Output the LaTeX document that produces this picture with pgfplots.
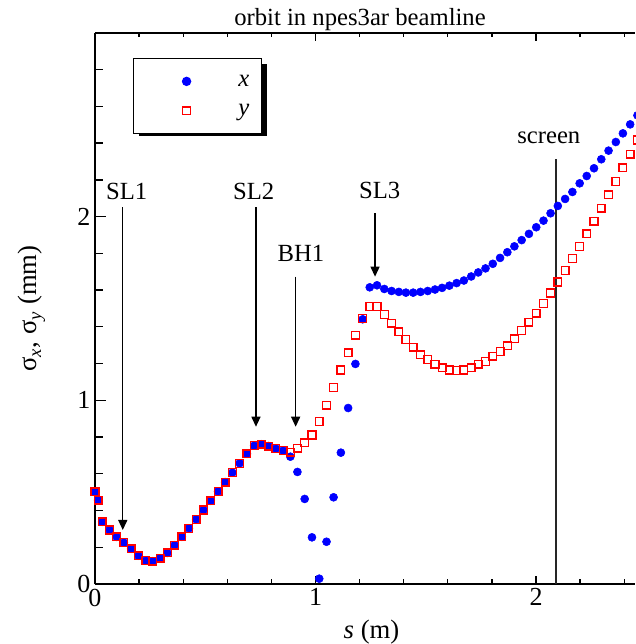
\documentclass[border=0pt]{standalone}
\usepackage{fontspec}
\setmainfont{Liberation Serif}
\usepackage{pgfplots}
\usepackage{pgfplotstable}
\pgfplotsset{compat=1.18}
\usetikzlibrary{arrows.meta}

% beam size along the npes3ar line: s (m), sigma (mm)
\pgfplotstableread{
s     sig
0.000 0.501
0.014 0.457
0.033 0.339
0.066 0.294
0.098 0.257
0.131 0.225
0.164 0.192
0.197 0.154
0.230 0.127
0.262 0.124
0.295 0.140
0.328 0.169
0.361 0.211
0.394 0.257
0.426 0.303
0.459 0.352
0.492 0.403
0.525 0.453
0.558 0.504
0.590 0.555
0.623 0.606
0.656 0.657
0.689 0.709
0.722 0.753
0.754 0.761
0.787 0.751
0.820 0.737
0.853 0.726
0.886 0.693
0.918 0.610
0.951 0.463
0.984 0.254
1.017 0.029
1.050 0.230
1.082 0.472
1.115 0.715
1.148 0.958
1.181 1.198
1.214 1.441
1.246 1.615
1.279 1.626
1.312 1.606
1.345 1.595
1.378 1.590
1.410 1.586
1.443 1.586
1.476 1.590
1.509 1.595
1.542 1.603
1.574 1.612
1.607 1.624
1.640 1.638
1.673 1.652
1.706 1.674
1.738 1.696
1.771 1.718
1.804 1.743
1.837 1.775
1.870 1.806
1.902 1.838
1.935 1.872
1.968 1.906
2.001 1.942
2.034 1.978
2.066 2.018
2.099 2.058
2.132 2.096
2.165 2.134
2.198 2.181
2.230 2.221
2.263 2.263
2.296 2.312
2.329 2.359
2.362 2.406
2.394 2.453
2.427 2.502
2.460 2.551
}\sigx

\pgfplotstableread{
s     sig
0.000 0.501
0.014 0.457
0.033 0.339
0.066 0.294
0.098 0.257
0.131 0.225
0.164 0.192
0.197 0.154
0.230 0.127
0.262 0.124
0.295 0.140
0.328 0.169
0.361 0.211
0.394 0.257
0.426 0.303
0.459 0.352
0.492 0.403
0.525 0.453
0.558 0.504
0.590 0.555
0.623 0.606
0.656 0.657
0.689 0.709
0.722 0.753
0.754 0.761
0.787 0.751
0.820 0.737
0.853 0.726
0.886 0.717
0.918 0.740
0.951 0.769
0.984 0.811
1.017 0.884
1.050 0.973
1.082 1.069
1.115 1.165
1.148 1.259
1.181 1.355
1.214 1.446
1.246 1.510
1.279 1.510
1.312 1.466
1.345 1.420
1.378 1.372
1.410 1.330
1.443 1.289
1.476 1.248
1.509 1.221
1.542 1.196
1.574 1.176
1.607 1.165
1.640 1.163
1.673 1.165
1.706 1.177
1.738 1.196
1.771 1.212
1.804 1.240
1.837 1.265
1.870 1.296
1.902 1.334
1.935 1.380
1.968 1.425
2.001 1.474
2.034 1.527
2.066 1.584
2.099 1.644
2.132 1.706
2.165 1.771
2.198 1.838
2.230 1.906
2.263 1.975
2.296 2.046
2.329 2.118
2.362 2.191
2.394 2.265
2.427 2.340
2.460 2.417
}\sigy

\begin{document}
\begin{tikzpicture}
\begin{axis}[
  x=165.375pt, y=137.775pt,
  xmin=0, xmax=2.449, ymin=0, ymax=3,
  axis x line*=box, axis y line*=left,
  clip=false,
  axis line style={line width=1.2pt, black},
  xtick={0,1,2}, ytick={0,1,2},
  minor xtick={0.2,0.4,0.6,0.8,1.2,1.4,1.6,1.8,2.2,2.4},
  minor ytick={0.2,0.4,0.6,0.8,1.2,1.4,1.6,1.8,2.2,2.4,2.6,2.8},
  tick align=inside,
  major tick length=8pt, minor tick length=6pt,
  xtick style={/pgfplots/major tick length=6pt, /pgfplots/minor tick length=3.4pt},
  tick style={line width=1pt, black},
  /pgf/number format/assume math mode=true,
  tick label style={font=\fontsize{19.5}{20}\selectfont},
  xlabel={\textit{s} (m)},
  ylabel={σ\textsubscript{\textit{x}}, σ\textsubscript{\textit{y}} (mm)},
  label style={font=\fontsize{20}{22}\selectfont},
  xlabel style={at={(axis description cs:0.512,-0.0866)}, anchor=center},
  ylabel style={at={(axis description cs:-0.117,0.5)}, anchor=center},
  legend style={at={(axis cs:0.172,2.863)}, anchor=north west,
    draw=black, line width=1pt, fill=white,
    inner xsep=0pt, inner ysep=6pt, row sep=0pt, column sep=0pt,
    font=\fontsize{18.5}{20}\selectfont\itshape,
    nodes={inner sep=0pt, text width=17.5pt, align=left}},
  legend image code/.code={
    \path[draw=none, fill=none] (0pt,-11pt) rectangle (78.5pt,11pt);
    \draw[#1] plot coordinates {(39.75pt,0pt)};},
]
% hard shadow behind the legend box
\fill[black] (axis cs:0.2018,2.436) rectangle (axis cs:0.7823,2.828);

\addplot[only marks, mark=*, mark size=3pt, color=blue,
  mark options={solid, draw=blue, fill=blue}] table[x=s, y=sig] {\sigx};
\addlegendentry{x}
\addplot[only marks, mark=square, mark size=2.9pt, color=red,
  mark options={solid, draw=red, fill=none, line width=1pt}] table[x=s, y=sig] {\sigy};
\addlegendentry{y}

% title
\node[anchor=base, font=\fontsize{18.5}{20}\selectfont]
  at (axis cs:1.202,3.038) {orbit in npes3ar beamline};

% element markers
\begin{scope}[font=\fontsize{18.5}{20}\selectfont]
  \node[anchor=base] at (axis cs:0.144,2.094) {SL1};
  \node[anchor=base] at (axis cs:0.720,2.094) {SL2};
  \node[anchor=base] at (axis cs:0.934,1.754) {BH1};
  \node[anchor=base] at (axis cs:1.291,2.096) {SL3};
  \node[anchor=base] at (axis cs:2.058,2.399) {screen};
\end{scope}
\begin{scope}[line width=1pt, -{Triangle[width=6.75pt,length=7.5pt]}]
  \draw (axis cs:0.126,2.052) -- (axis cs:0.126,0.294);
  \draw (axis cs:0.730,2.052) -- (axis cs:0.730,0.856);
  \draw (axis cs:0.910,1.673) -- (axis cs:0.910,0.856);
  \draw (axis cs:1.270,2.018) -- (axis cs:1.270,1.673);
\end{scope}
\draw[line width=1.3pt, black!85] (axis cs:2.089,2.312) -- (axis cs:2.089,0);

\coordinate (BL) at (axis cs:-0.4308,-0.3266);
\coordinate (TR) at (axis cs:2.449,3.179);
\end{axis}
\pgfresetboundingbox
\path[use as bounding box] (BL) rectangle (TR);
\end{tikzpicture}
\end{document}
